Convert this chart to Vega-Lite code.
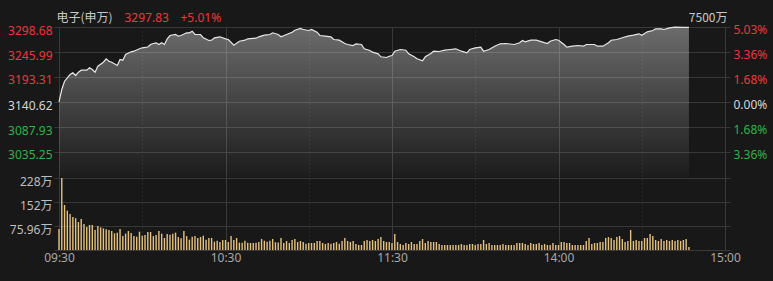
{
  "$schema": "https://vega.github.io/schema/vega-lite/v6.json",
  "width": 676,
  "height": 223,
  "autosize": {"type": "none"},
  "padding": {"left": 54, "top": 27, "right": 43, "bottom": 31},
  "background": "#181818",
  "config": {
    "view": {"stroke": null},
    "axis": {"labelFont": "Noto Sans, Noto Sans CJK SC", "titleFont": "Noto Sans CJK SC", "labelFontSize": 12, "titleFontSize": 12, "titleFontWeight": "normal"}
  },
  "datasets": {
    "line": [
      {"t":0,"p":3141.0},{"t":1,"p":3166.96},{"t":2,"p":3184.45},{"t":4,"p":3198.57},{"t":5,"p":3202.15},{"t":6,"p":3196.46},{"t":7,"p":3203.42},{"t":8,"p":3207.63},{"t":10,"p":3207.63},{"t":11,"p":3212.69},{"t":12,"p":3209.1},{"t":13,"p":3203.42},{"t":14,"p":3216.06},{"t":16,"p":3224.49},{"t":17,"p":3231.66},{"t":18,"p":3226.6},{"t":19,"p":3224.49},{"t":21,"p":3217.54},{"t":22,"p":3230.18},{"t":23,"p":3228.71},{"t":24,"p":3240.72},{"t":26,"p":3246.41},{"t":27,"p":3247.68},{"t":29,"p":3252.74},{"t":30,"p":3254.84},{"t":32,"p":3256.53},{"t":33,"p":3261.8},{"t":34,"p":3263.9},{"t":35,"p":3265.38},{"t":36,"p":3261.8},{"t":37,"p":3265.38},{"t":38,"p":3261.8},{"t":39,"p":3273.81},{"t":40,"p":3280.77},{"t":42,"p":3282.87},{"t":43,"p":3279.29},{"t":44,"p":3280.77},{"t":46,"p":3286.46},{"t":47,"p":3286.46},{"t":48,"p":3289.83},{"t":49,"p":3282.87},{"t":51,"p":3282.87},{"t":52,"p":3275.92},{"t":54,"p":3270.23},{"t":55,"p":3270.86},{"t":56,"p":3275.92},{"t":58,"p":3278.03},{"t":60,"p":3273.81},{"t":61,"p":3272.34},{"t":63,"p":3260.32},{"t":65,"p":3268.75},{"t":67,"p":3270.86},{"t":68,"p":3273.81},{"t":71,"p":3275.08},{"t":72,"p":3278.03},{"t":74,"p":3281.4},{"t":76,"p":3282.87},{"t":77,"p":3286.46},{"t":79,"p":3282.87},{"t":80,"p":3278.03},{"t":82,"p":3282.87},{"t":84,"p":3287.72},{"t":85,"p":3291.94},{"t":87,"p":3295.52},{"t":88,"p":3293.41},{"t":90,"p":3291.3},{"t":91,"p":3293.41},{"t":93,"p":3287.72},{"t":94,"p":3280.77},{"t":96,"p":3279.29},{"t":98,"p":3278.03},{"t":99,"p":3272.34},{"t":101,"p":3270.86},{"t":103,"p":3263.9},{"t":104,"p":3261.8},{"t":106,"p":3259.69},{"t":107,"p":3263.27},{"t":109,"p":3261.8},{"t":110,"p":3252.74},{"t":112,"p":3249.15},{"t":113,"p":3245.57},{"t":115,"p":3242.2},{"t":116,"p":3235.87},{"t":118,"p":3234.4},{"t":119,"p":3237.14},{"t":120,"p":3238.61},{"t":121,"p":3247.68},{"t":123,"p":3251.26},{"t":125,"p":3249.78},{"t":126,"p":3242.2},{"t":128,"p":3235.87},{"t":129,"p":3231.66},{"t":131,"p":3227.44},{"t":132,"p":3235.87},{"t":134,"p":3242.83},{"t":135,"p":3247.68},{"t":137,"p":3247.04},{"t":139,"p":3249.78},{"t":141,"p":3251.26},{"t":143,"p":3252.74},{"t":145,"p":3247.68},{"t":147,"p":3244.3},{"t":148,"p":3251.26},{"t":150,"p":3254.84},{"t":152,"p":3256.11},{"t":153,"p":3247.68},{"t":155,"p":3251.26},{"t":157,"p":3258.21},{"t":159,"p":3263.27},{"t":161,"p":3263.9},{"t":164,"p":3261.8},{"t":166,"p":3265.38},{"t":167,"p":3270.23},{"t":168,"p":3267.49},{"t":170,"p":3270.86},{"t":172,"p":3270.86},{"t":174,"p":3267.49},{"t":176,"p":3263.9},{"t":177,"p":3268.75},{"t":179,"p":3272.34},{"t":180,"p":3270.86},{"t":182,"p":3261.8},{"t":183,"p":3256.11},{"t":185,"p":3258.21},{"t":187,"p":3259.69},{"t":189,"p":3258.21},{"t":190,"p":3261.8},{"t":193,"p":3261.8},{"t":194,"p":3258.21},{"t":196,"p":3258.21},{"t":198,"p":3265.38},{"t":199,"p":3270.86},{"t":201,"p":3272.34},{"t":203,"p":3275.92},{"t":205,"p":3279.29},{"t":207,"p":3281.4},{"t":209,"p":3284.35},{"t":210,"p":3281.4},{"t":212,"p":3288.56},{"t":214,"p":3291.3},{"t":215,"p":3294.89},{"t":217,"p":3294.89},{"t":218,"p":3293.41},{"t":220,"p":3296.99},{"t":222,"p":3298.26},{"t":225,"p":3297.9},{"t":227,"p":3297.83}
    ],
    "vol": [
      {"t":0,"v":66.5},{"t":1,"v":228},{"t":2,"v":142.6},{"t":3,"v":124.6},{"t":4,"v":114},{"t":5,"v":104.5},{"t":6,"v":101},{"t":7,"v":88.7},{"t":8,"v":98},{"t":9,"v":82.4},{"t":10,"v":72.9},{"t":11,"v":79},{"t":12,"v":79},{"t":13,"v":63},{"t":14,"v":76},{"t":15,"v":71.8},{"t":16,"v":68.6},{"t":17,"v":65.5},{"t":18,"v":63},{"t":19,"v":60},{"t":20,"v":52.8},{"t":21,"v":55},{"t":22,"v":66.5},{"t":23,"v":44},{"t":24,"v":51.7},{"t":25,"v":60},{"t":26,"v":53.9},{"t":27,"v":44},{"t":28,"v":42},{"t":29,"v":58},{"t":30,"v":45.4},{"t":31,"v":47.5},{"t":32,"v":57},{"t":33,"v":57},{"t":34,"v":44},{"t":35,"v":47.5},{"t":36,"v":60},{"t":37,"v":51.7},{"t":38,"v":38},{"t":39,"v":50.7},{"t":40,"v":48.6},{"t":41,"v":51.7},{"t":42,"v":55},{"t":43,"v":41},{"t":44,"v":37},{"t":45,"v":60},{"t":46,"v":44},{"t":47,"v":32.7},{"t":48,"v":42},{"t":49,"v":44},{"t":50,"v":38},{"t":51,"v":41},{"t":52,"v":45.4},{"t":53,"v":32.7},{"t":54,"v":38},{"t":55,"v":38},{"t":56,"v":26.4},{"t":57,"v":29.6},{"t":58,"v":25.3},{"t":59,"v":31.7},{"t":60,"v":31.7},{"t":61,"v":25.3},{"t":62,"v":44},{"t":63,"v":31.7},{"t":64,"v":38},{"t":65,"v":23.2},{"t":66,"v":23.2},{"t":67,"v":29.6},{"t":68,"v":23.2},{"t":69,"v":22.2},{"t":70,"v":22.2},{"t":71,"v":23.2},{"t":72,"v":25.3},{"t":73,"v":34.8},{"t":74,"v":29.6},{"t":75,"v":26.4},{"t":76,"v":29.6},{"t":77,"v":34.8},{"t":78,"v":24.5},{"t":79,"v":24},{"t":80,"v":38},
      {"t":81,"v":22.2},{"t":82,"v":28.5},{"t":83,"v":22.2},{"t":84,"v":31.7},{"t":85,"v":34.8},{"t":86,"v":25.3},{"t":87,"v":28.5},{"t":88,"v":25.3},{"t":89,"v":20},{"t":90,"v":22.2},{"t":91,"v":22.2},{"t":92,"v":22.2},{"t":93,"v":28.5},{"t":94,"v":28.5},{"t":95,"v":22.2},{"t":96,"v":19},{"t":97,"v":22.2},{"t":98,"v":20},{"t":99,"v":22.2},{"t":100,"v":25.3},{"t":101,"v":20},{"t":102,"v":28.5},{"t":103,"v":38},{"t":104,"v":28.5},{"t":105,"v":25.3},{"t":106,"v":28.5},{"t":107,"v":19},{"t":108,"v":15.8},{"t":109,"v":15.8},{"t":110,"v":28.5},{"t":111,"v":31.7},{"t":112,"v":28.5},{"t":113,"v":31.7},{"t":114,"v":28.5},{"t":115,"v":34.8},{"t":116,"v":41},{"t":117,"v":28.5},{"t":118,"v":25.3},{"t":119,"v":25.3},{"t":120,"v":22.2},
      {"t":121,"v":50.7},{"t":122,"v":25.3},{"t":123,"v":19},{"t":124,"v":15.8},{"t":125,"v":22.2},{"t":126,"v":19},{"t":127,"v":25.3},{"t":128,"v":19},{"t":129,"v":19},{"t":130,"v":28.5},{"t":131,"v":34.8},{"t":132,"v":22.2},{"t":133,"v":28.5},{"t":134,"v":25.3},{"t":135,"v":25.3},{"t":136,"v":25.3},{"t":137,"v":19},{"t":138,"v":15.8},{"t":139,"v":15.8},{"t":140,"v":15.8},{"t":141,"v":15.8},{"t":142,"v":15.8},{"t":143,"v":15.8},{"t":144,"v":15.8},{"t":145,"v":19},{"t":146,"v":15.8},{"t":147,"v":15.8},{"t":148,"v":19},{"t":149,"v":19},{"t":150,"v":15.8},{"t":151,"v":19},{"t":152,"v":19},{"t":153,"v":31.7},{"t":154,"v":19},{"t":155,"v":22.2},{"t":156,"v":15.8},{"t":157,"v":15.8},{"t":158,"v":15.8},{"t":159,"v":15.8},{"t":160,"v":19},
      {"t":161,"v":15.8},{"t":162,"v":15.8},{"t":163,"v":15.8},{"t":164,"v":15.8},{"t":165,"v":22.2},{"t":166,"v":22.2},{"t":167,"v":22.2},{"t":168,"v":19},{"t":169,"v":15.8},{"t":170,"v":22.2},{"t":171,"v":19},{"t":172,"v":19},{"t":173,"v":22.2},{"t":174,"v":15.8},{"t":175,"v":19},{"t":176,"v":15.8},{"t":177,"v":15.8},{"t":178,"v":22.2},{"t":179,"v":15.8},{"t":180,"v":15.8},{"t":181,"v":25.3},{"t":182,"v":25.3},{"t":183,"v":22.2},{"t":184,"v":22.2},{"t":185,"v":15.8},{"t":186,"v":15.8},{"t":187,"v":15.8},{"t":188,"v":15.8},{"t":189,"v":15.8},{"t":190,"v":28.5},{"t":191,"v":38},{"t":192,"v":19},{"t":193,"v":22.2},{"t":194,"v":22.2},{"t":195,"v":25.3},{"t":196,"v":25.3},{"t":197,"v":38},{"t":198,"v":41},{"t":199,"v":38},{"t":200,"v":31.7},
      {"t":201,"v":41},{"t":202,"v":44.3},{"t":203,"v":34.8},{"t":204,"v":25.3},{"t":205,"v":28.5},{"t":206,"v":63.3},{"t":207,"v":28.5},{"t":208,"v":31.7},{"t":209,"v":28.5},{"t":210,"v":28.5},{"t":211,"v":38},{"t":212,"v":38},{"t":213,"v":50.7},{"t":214,"v":44.3},{"t":215,"v":31.7},{"t":216,"v":28.5},{"t":217,"v":34.8},{"t":218,"v":28.5},{"t":219,"v":31.7},{"t":220,"v":28.5},{"t":221,"v":31.7},{"t":222,"v":28.5},{"t":223,"v":31.7},{"t":224,"v":28.5},{"t":225,"v":31.7},{"t":226,"v":34.8},{"t":227,"v":9.5}
    ]
  },
  "encoding": {
    "x": {
      "field": "t",
      "type": "quantitative",
      "scale": {"domain": [0, 240], "nice": false, "zero": false},
      "axis": {
        "values": [0, 30, 60, 90, 120, 150, 180, 210, 240],
        "labelExpr": "datum.value==0?'09:30':datum.value==60?'10:30':datum.value==120?'11:30':datum.value==180?'14:00':datum.value==240?'15:00':''",
        "grid": true,
        "gridColor": "#3a3a3a",
        "gridDash": {"condition": {"test": "datum.value % 60 == 30", "value": [1, 3]}, "value": []},
        "ticks": false,
        "domain": true,
        "domainColor": "#3a3a3a",
        "labelColor": "#a8a8a8",
        "labelPadding": 2,
        "labelBound": false,
        "labelFlush": false,
        "labelOverlap": false,
        "title": "+5.01%",
        "titleAngle": 0,
        "titleAlign": "left",
        "titleBaseline": "middle",
        "titleX": 126,
        "titleY": -233,
        "titleColor": "#e8383d",
        "titleFont": "Noto Sans"
      }
    }
  },
  "layer": [
    {
      "data": {"name": "line"},
      "mark": {
        "type": "area",
        "opacity": 1,
        "color": {"gradient": "linear", "x1": 0, "y1": 0, "x2": 0, "y2": 1,
          "stops": [{"offset": 0, "color": "rgba(255,255,255,0.36)"}, {"offset": 0.75, "color": "rgba(255,255,255,0.1)"}, {"offset": 1, "color": "rgba(255,255,255,0.02)"}]}
      },
      "encoding": {
        "y": {
          "field": "p",
          "type": "quantitative",
          "scale": {"domain": [2828.72, 3298.68], "nice": false, "zero": false},
          "axis": {
            "orient": "left",
            "values": [3035.25, 3087.93, 3140.62, 3193.31, 3245.99, 3298.68],
            "labelExpr": "format(datum.value, '.2f')",
            "grid": true,
            "gridColor": "#383838",
            "ticks": false,
            "domain": false,
            "labelPadding": 2,
            "labelOffset": 3,
            "labelColor": {"condition": [{"test": "datum.value > 3141", "value": "#e8383d"}, {"test": "datum.value < 3140", "value": "#2fb34a"}], "value": "#d6d6d6"},
            "title": "电子(申万)",
            "titleAngle": 0,
            "titleAlign": "left",
            "titleBaseline": "middle",
            "titleX": 2,
            "titleY": -10,
            "titleColor": "#c8c8c8"
          }
        },
        "y2": {"datum": 2982.56}
      }
    },
    {
      "data": {"name": "vol"},
      "mark": {"type": "bar", "color": "#e6c27e", "size": 1.4},
      "encoding": {
        "y": {
          "field": "v",
          "type": "quantitative",
          "scale": {"domain": [0, 706.17], "nice": false},
          "axis": {
            "orient": "left",
            "values": [75.96, 152, 228],
            "labelExpr": "datum.value + '万'",
            "grid": true,
            "gridColor": "#383838",
            "ticks": false,
            "domain": false,
            "labelPadding": 2,
            "labelOffset": 3.5,
            "labelColor": "#bdbdbd",
            "title": "3297.83",
            "titleAngle": 0,
            "titleAlign": "left",
            "titleBaseline": "middle",
            "titleX": 70,
            "titleY": -10,
            "titleColor": "#e8383d",
            "titleFont": "Noto Sans"
          }
        }
      }
    },
    {
      "data": {"name": "line"},
      "mark": {"type": "line", "color": "#e6e6e6", "strokeWidth": 1.2},
      "encoding": {
        "y": {
          "field": "p",
          "type": "quantitative",
          "scale": {"domain": [2828.72, 3298.68], "nice": false, "zero": false},
          "axis": {
            "orient": "right",
            "values": [3035.25, 3087.93, 3140.62, 3193.31, 3245.99, 3298.68],
            "labelExpr": "format(abs(datum.value / 3140.62 - 1) * 100, '.2f') + '%'",
            "grid": false,
            "ticks": false,
            "domain": false,
            "labelPadding": 3,
            "labelOffset": 2.5,
            "labelColor": {"condition": [{"test": "datum.value > 3141", "value": "#e8383d"}, {"test": "datum.value < 3140", "value": "#2fb34a"}], "value": "#d6d6d6"},
            "title": "7500万",
            "titleAngle": 0,
            "titleAlign": "right",
            "titleBaseline": "middle",
            "titleX": -3,
            "titleY": -10,
            "titleColor": "#c8c8c8"
          }
        }
      }
    }
  ],
  "resolve": {"scale": {"y": "independent"}, "axis": {"y": "independent"}}
}
